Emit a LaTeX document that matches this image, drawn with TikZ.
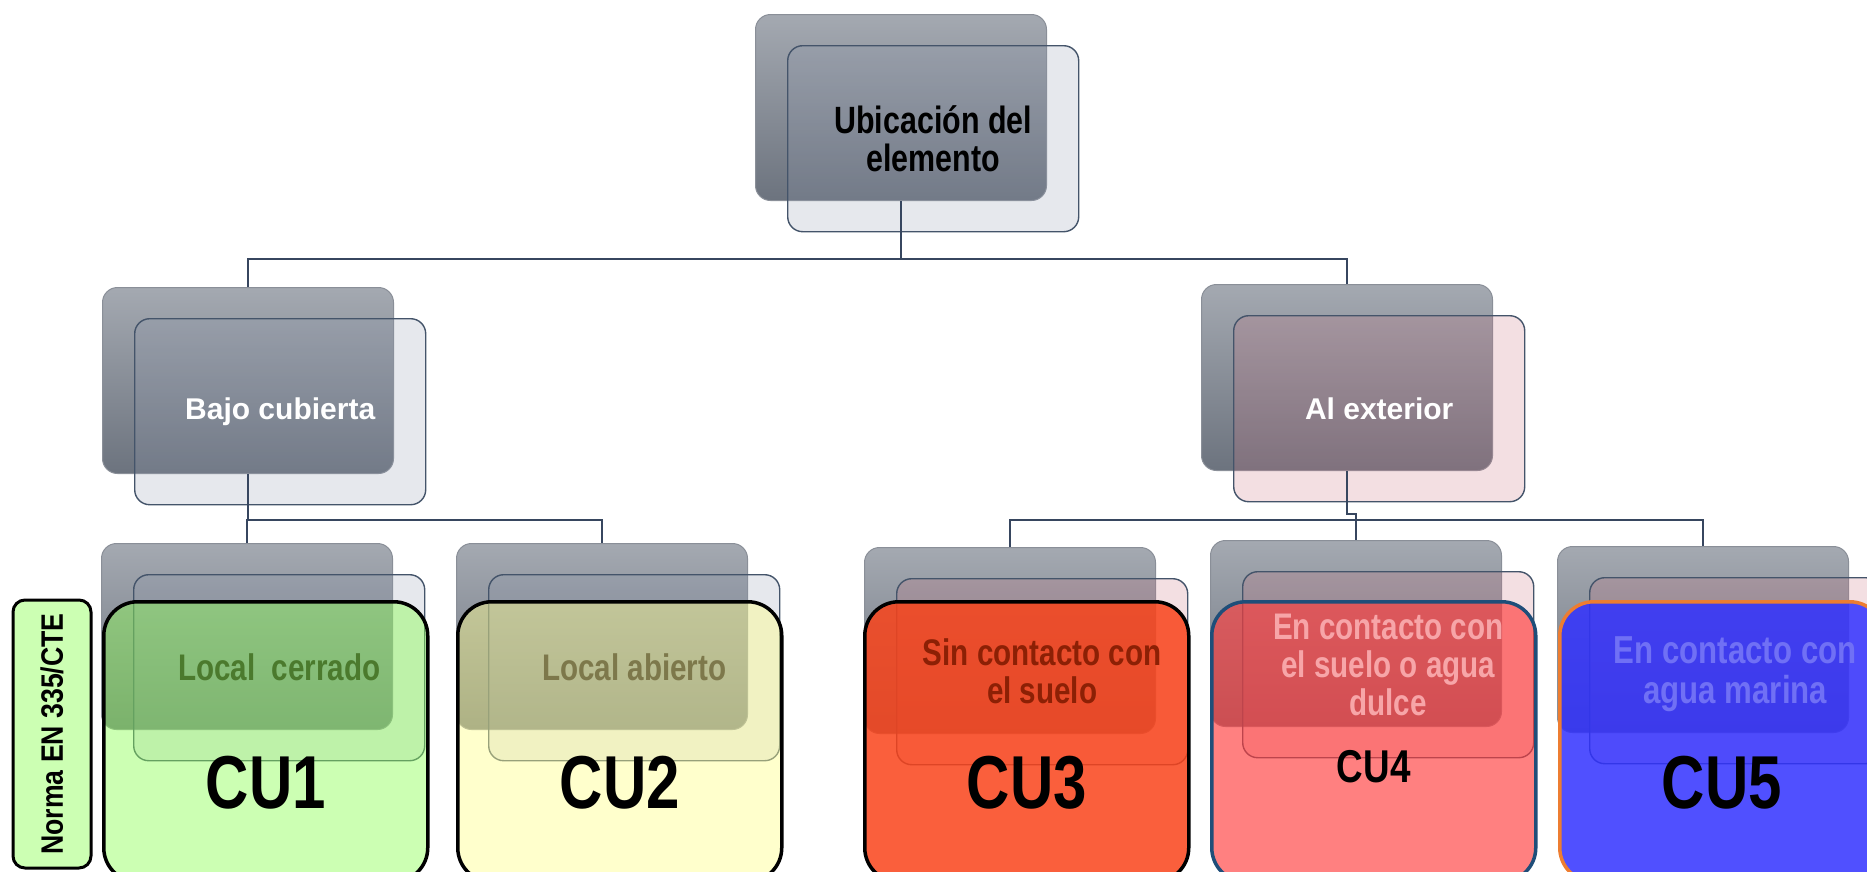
\documentclass[tikz,border=0pt]{standalone}
\usepackage{fontspec}
\setmainfont{Liberation Sans}
\newfontfamily\narrowfont[FakeStretch=0.8]{Liberation Sans}
\newfontfamily\normafont[FakeStretch=0.86]{Liberation Sans}
\usetikzlibrary{calc}
\definecolor{boxtop}{RGB}{164,169,177}
\definecolor{boxbot}{RGB}{108,115,126}
\definecolor{boxedge}{RGB}{138,143,152}
\definecolor{frontedge}{RGB}{68,84,106}
\definecolor{conncol}{RGB}{55,70,95}
\definecolor{blueish}{RGB}{140,150,172}
\definecolor{pinkish}{RGB}{200,110,125}
\definecolor{cuone}{RGB}{142,255,86}
\definecolor{cutwo}{RGB}{255,255,142}
\definecolor{cuthree}{RGB}{249,67,26}
\definecolor{cufour}{RGB}{255,60,60}
\definecolor{cufive}{RGB}{49,49,255}
\definecolor{normafill}{RGB}{204,255,179}
\definecolor{cufouredge}{RGB}{31,78,121}
\definecolor{cufiveedge}{RGB}{237,125,49}
\definecolor{txtgreen}{RGB}{75,122,45}
\definecolor{txtolive}{RGB}{125,120,75}
\definecolor{txtred}{RGB}{140,32,5}
\definecolor{txtpink}{RGB}{247,165,168}
\definecolor{txtblue}{RGB}{112,112,245}

\begin{document}
\begin{tikzpicture}[x=1pt,y=-1pt,
    back/.style={rounded corners=15pt, draw=boxedge, line width=1pt,
        top color=boxtop, bottom color=boxbot, minimum width=291pt,
        minimum height=186pt, inner sep=0pt, anchor=north west},
    front/.style={rounded corners=15pt, draw=frontedge, line width=1.4pt,
        fill=#1, fill opacity=0.22, minimum width=291pt, minimum height=186pt,
        inner sep=0pt, anchor=north west},
    conn/.style={draw=conncol, line width=2.4pt},
    cubox/.style={rounded corners=34pt, line width=3.5pt, minimum width=324pt,
        minimum height=280pt, inner sep=0pt, anchor=north west},
    toptext/.style={align=center, font=\narrowfont\bfseries\fontsize{38}{38}\selectfont},
    midtext/.style={align=center, text=white, font=\bfseries\fontsize{30}{34}\selectfont},
    lowtext/.style={align=center, font=\narrowfont\bfseries\fontsize{37}{38}\selectfont},
    cutext/.style={font=\narrowfont\bfseries\fontsize{75}{75}\selectfont}]
    \useasboundingbox (0,0) rectangle (1867,871);
    \clip (0,0) rectangle (1867,871);

    \node[back] (ubiB) at (755,14) {};
    \node[front=blueish] (ubi) at ($(ubiB.north west)+(32,31)$) {};

    \node[back] (bajoB) at (102,287) {};
    \node[front=blueish] (bajo) at ($(bajoB.north west)+(32,31)$) {};
    \node[back] (extB) at (1201,284) {};
    \node[front=pinkish] (ext) at ($(extB.north west)+(32,31)$) {};

    \node[back] (cerB) at (101,543) {};
    \node[front=blueish] (cer) at ($(cerB.north west)+(32,31)$) {};
    \node[back] (abiB) at (456,543) {};
    \node[front=blueish] (abi) at ($(abiB.north west)+(32,31)$) {};
    \node[back] (sinB) at (864,547) {};
    \node[front=pinkish] (sin) at ($(sinB.north west)+(32,31)$) {};
    \node[back] (dulB) at (1210,540) {};
    \node[front=pinkish] (dul) at ($(dulB.north west)+(32,31)$) {};
    \node[back] (marB) at (1557,546) {};
    \node[front=pinkish] (mar) at ($(marB.north west)+(32,31)$) {};

    \draw[conn] (ubiB.south) -- ++(0,58) coordinate (j1);
    \draw[conn] (bajoB.north) |- (j1) -| (extB.north);
    \draw[conn] (bajoB.south) -- ++(0,46) coordinate (j2);
    \draw[conn] (cerB.north) |- (j2) -| (abiB.north);
    \coordinate (j3) at ($(extB.south)+(0,49)$);
    \draw[conn] (sinB.north) |- (j3) -| (marB.north);
    \draw[conn] (extB.south) -- ++(0,43) -| (dulB.north);

    \node[cubox, draw=black, fill=cuone, fill opacity=0.45] (cu1) at (102,600) {};
    \node[cubox, draw=black, fill=cutwo, fill opacity=0.45] (cu2) at (456,600) {};
    \node[cubox, draw=black, fill=cuthree, fill opacity=0.85] (cu3) at (863,600) {};
    \node[cubox, draw=cufouredge, fill=cufour, fill opacity=0.65] (cu4) at (1210,600) {};
    \node[cubox, draw=cufiveedge, fill=cufive, fill opacity=0.85] (cu5) at (1558,600) {};

    \node[rounded corners=12pt, draw=black, line width=3pt, fill=normafill,
        rotate=90, minimum width=268pt, minimum height=78pt, inner sep=0pt,
        font=\normafont\bfseries\fontsize{31}{31}\selectfont] (norma) at (52,734) {Norma EN 335/CTE};

    \node[toptext] at (ubi.center) {Ubicación del\\elemento};
    \node[midtext] at (bajo.center) {Bajo cubierta};
    \node[midtext] at (ext.center) {Al exterior};
    \node[lowtext, text=txtgreen] at (cer.center) {Local\ \ cerrado};
    \node[lowtext, text=txtolive] at (abi.center) {Local abierto};
    \node[lowtext, text=txtred] at (sin.center) {Sin contacto con\\el suelo};
    \node[lowtext, text=txtpink] at (dul.center) {En contacto con\\el suelo o agua\\dulce};
    \node[lowtext, text=txtblue, font=\narrowfont\bfseries\fontsize{39}{40}\selectfont] at ($(mar.center)+(0,4)$) {En contacto con\\agua marina};

    \node[cutext] at ($(cu1.north)+(0,183)$) {CU1};
    \node[cutext] at ($(cu2.north)+(0,183)$) {CU2};
    \node[cutext] at ($(cu3.north)+(0,183)$) {CU3};
    \node[font=\narrowfont\bfseries\fontsize{46}{46}\selectfont] at ($(cu4.north)+(0,167)$) {CU4};
    \node[cutext] at ($(cu5.north)+(0,183)$) {CU5};
\end{tikzpicture}
\end{document}
